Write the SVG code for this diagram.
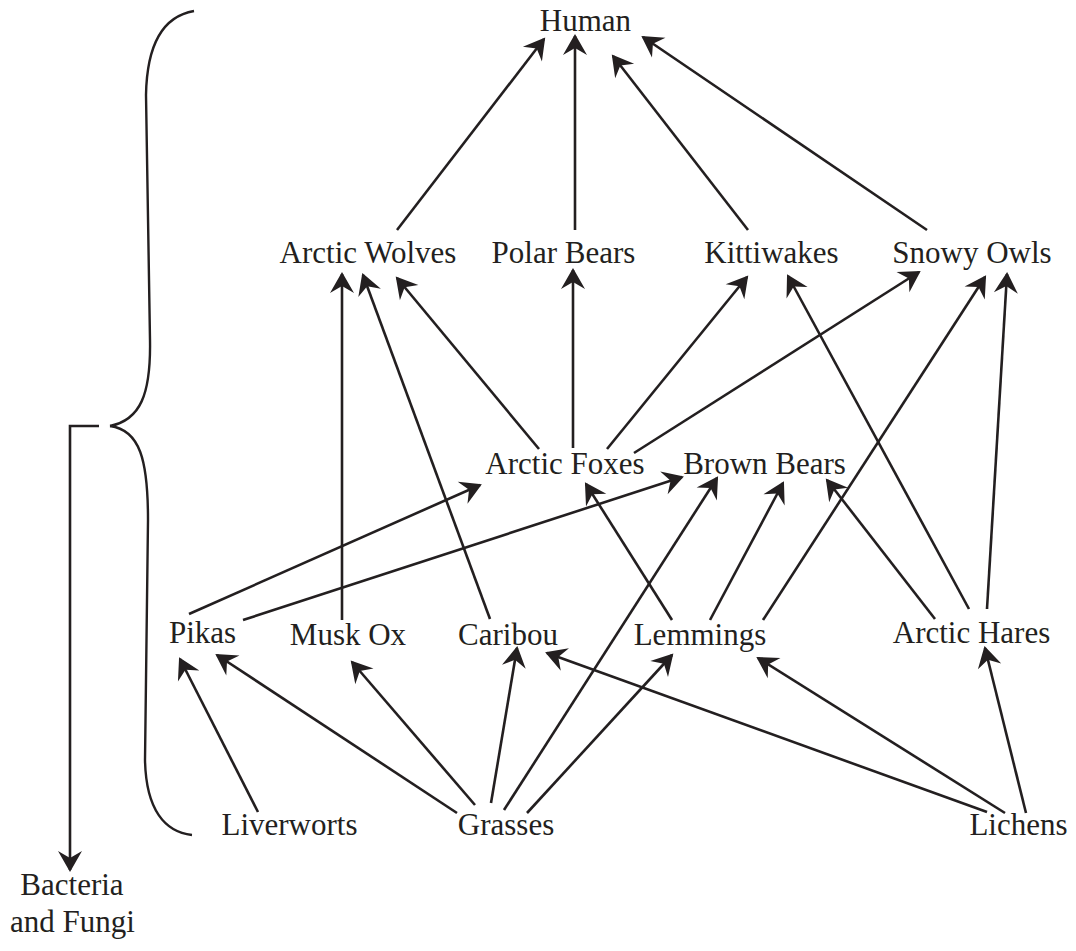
<svg xmlns="http://www.w3.org/2000/svg" width="1076" height="951" viewBox="0 0 1076 951">
<style>
text{font-family:"Liberation Serif","Times New Roman",serif;font-size:31px;fill:#231f20;text-anchor:middle}
.c line{stroke:#231f20;stroke-width:2.6;fill:none;marker-end:url(#ah)}
.brace{stroke:#231f20;stroke-width:2.4;fill:none}
</style>
<defs>
<marker id="ah" markerUnits="userSpaceOnUse" viewBox="-22 -13 26 26" markerWidth="26" markerHeight="26" refX="0" refY="0" orient="auto">
<path d="M2,0 L-19,-12 L-12,0 L-19,12 Z" fill="#231f20"/>
</marker>
</defs>
<rect width="1076" height="951" fill="#fff"/>
<g id="brace">
<path class="brace" d="M194,11 C165,16 147,40 146,95 L150,340 C151,395 140,420 110,426"/>
<path class="brace" d="M110,426 C140,430 148,460 148,520 L145,760 C146,810 165,832 192,835"/>
</g>
<g class="c" id="connectors">
<line x1="397" y1="230" x2="544" y2="39"/>
<line x1="575" y1="230" x2="575" y2="36"/>
<line x1="748" y1="230" x2="613" y2="56"/>
<line x1="927" y1="230" x2="643" y2="37"/>
<line x1="342" y1="620" x2="342" y2="274"/>
<line x1="490" y1="619" x2="363" y2="275"/>
<line x1="539" y1="449" x2="397" y2="278"/>
<line x1="573" y1="448" x2="573" y2="270"/>
<line x1="607" y1="449" x2="747" y2="277"/>
<line x1="634" y1="453" x2="919" y2="272"/>
<line x1="763" y1="620" x2="985" y2="277"/>
<line x1="969" y1="609" x2="788" y2="276"/>
<line x1="987" y1="609" x2="1007" y2="274"/>
<line x1="189" y1="614" x2="480" y2="485"/>
<line x1="243" y1="620" x2="682" y2="477"/>
<line x1="672" y1="620" x2="586" y2="484"/>
<line x1="504" y1="810" x2="717" y2="478"/>
<line x1="710" y1="620" x2="783" y2="483"/>
<line x1="935" y1="619" x2="827" y2="480"/>
<line x1="527" y1="813" x2="672" y2="655"/>
<line x1="457" y1="813" x2="217" y2="655"/>
<line x1="258" y1="812" x2="180" y2="659"/>
<line x1="475" y1="805" x2="352" y2="662"/>
<line x1="491" y1="803" x2="517" y2="648"/>
<line x1="987" y1="812" x2="547" y2="653"/>
<line x1="1005" y1="813" x2="758" y2="658"/>
<line x1="1026" y1="813" x2="985" y2="648"/>
<polyline points="99,426 70,426 70,870" style="stroke:#231f20;stroke-width:2.6;fill:none;marker-end:url(#ah)"/>
</g>
<g id="human"><text x="585.5" y="31">Human</text></g>
<g id="arctic-wolves"><text x="368" y="263">Arctic Wolves</text></g>
<g id="polar-bears"><text x="563.5" y="263">Polar Bears</text></g>
<g id="kittiwakes"><text x="771.5" y="263">Kittiwakes</text></g>
<g id="snowy-owls"><text x="972" y="263">Snowy Owls</text></g>
<g id="arctic-foxes"><text x="565" y="474">Arctic Foxes</text></g>
<g id="brown-bears"><text x="764.5" y="474">Brown Bears</text></g>
<g id="pikas"><text x="202.5" y="643">Pikas</text></g>
<g id="musk-ox"><text x="348" y="645">Musk Ox</text></g>
<g id="caribou"><text x="508" y="645">Caribou</text></g>
<g id="lemmings"><text x="700" y="645">Lemmings</text></g>
<g id="arctic-hares"><text x="971.5" y="643">Arctic Hares</text></g>
<g id="liverworts"><text x="289.5" y="835">Liverworts</text></g>
<g id="grasses"><text x="506" y="835">Grasses</text></g>
<g id="lichens"><text x="1018.5" y="835">Lichens</text></g>
<g id="bacteria-fungi"><text x="72" y="895">Bacteria</text><text x="72.5" y="932">and Fungi</text></g>
</svg>
